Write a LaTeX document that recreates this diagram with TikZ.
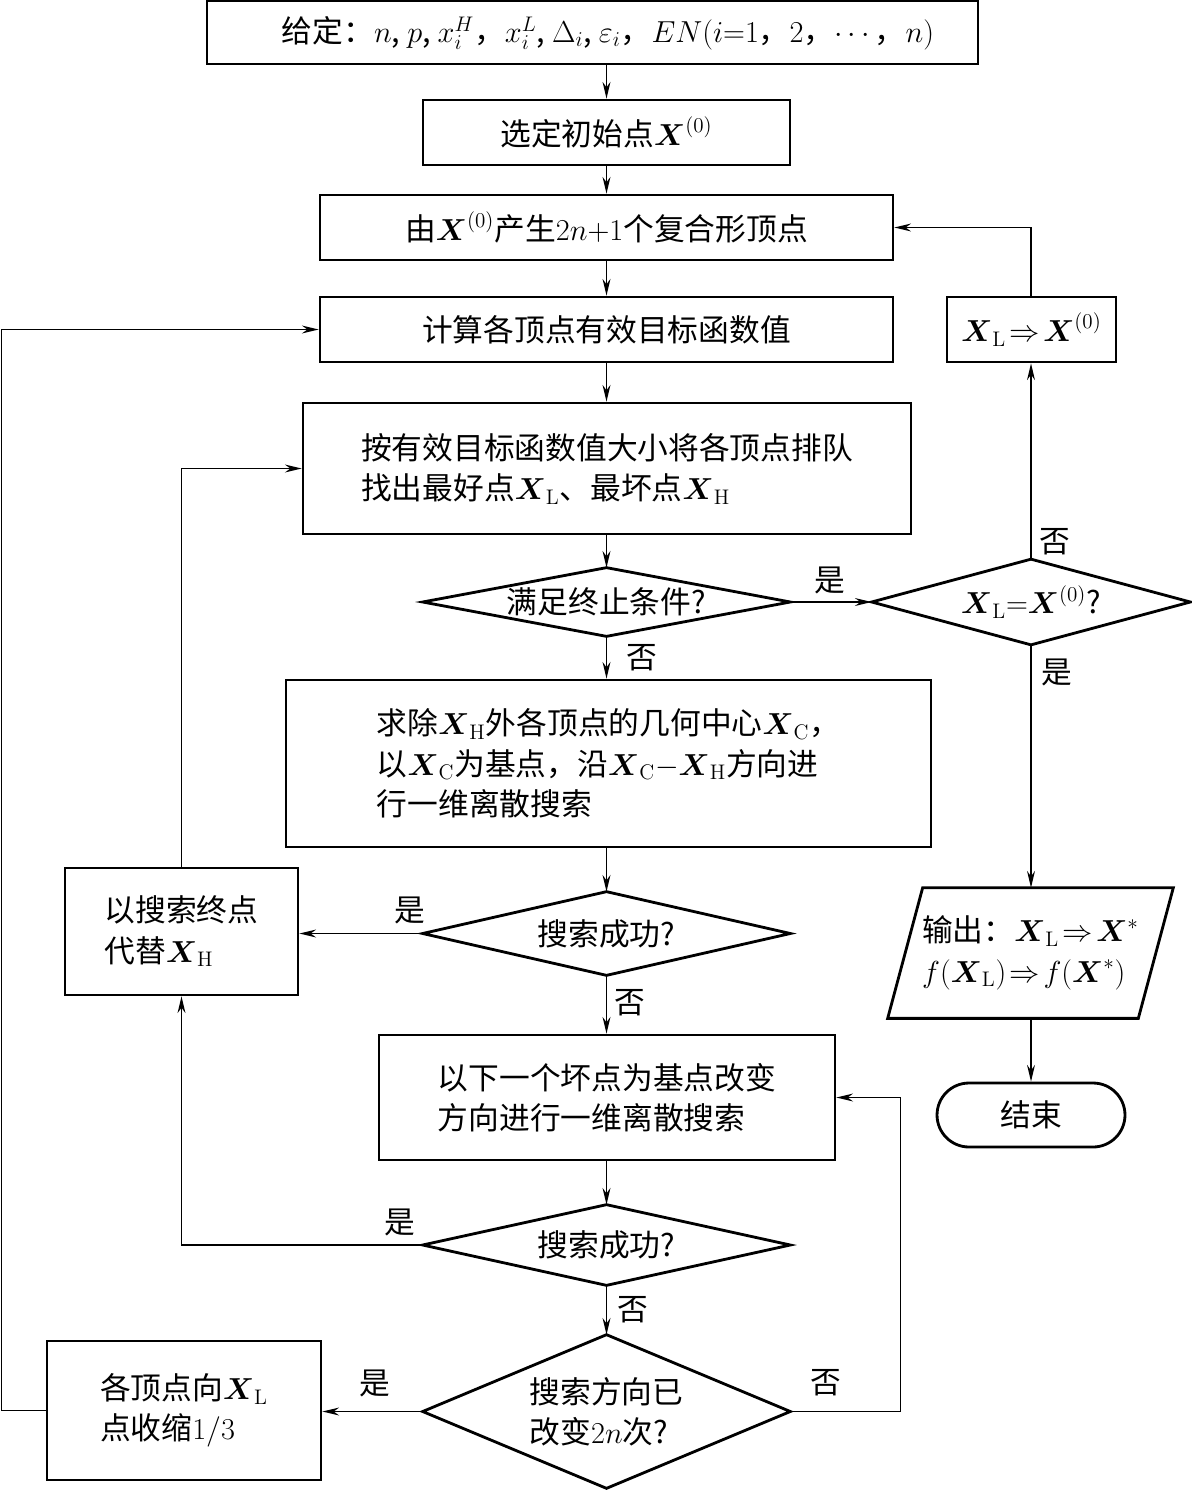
\documentclass[tikz,border=0pt]{standalone}
\usepackage{amsmath}
\usepackage[no-math]{fontspec}
\setmainfont{Noto Sans CJK SC}
\usetikzlibrary{arrows.meta,calc}
\newcommand\fs{\fontsize{17.5pt}{23pt}\selectfont}
\newcommand\XL{\boldsymbol{X}_{\mathrm{L}}}
\newcommand\XH{\boldsymbol{X}_{\mathrm{H}}}
\newcommand\XC{\boldsymbol{X}_{\mathrm{C}}}
\newcommand\Xz{\boldsymbol{X}^{(0)}}
\newcommand\imp{\mathrel{\mkern-3mu\Rightarrow\mkern-3mu}}
\tikzset{
  box/.style={draw, line width=1.6pt, inner sep=0pt, font=\fs, align=center},
  dbox/.style={inner sep=0pt, font=\fs, align=center},
  shapeline/.style={line width=1.6pt, line join=miter},
  conn/.style={line width=0.8pt, -{Stealth[length=9.5pt,width=4.5pt]}},
  lab/.style={font=\fs, inner sep=0pt},
}
\begin{document}
\begin{tikzpicture}[x=0.02cm,y=-0.02cm]
\useasboundingbox (0,0) rectangle (1192,1494);
% boxes
\node[box, minimum width=15.42cm, minimum height=1.26cm] (b1) at (592.5,32.5) {};
\node[lab] (b1t) at (608,33) {给定：$n$, $p$, $x_i^H$，$x_i^L$, $\Delta_i$, $\varepsilon_i$，$EN(i{=}1$，$2$，$\cdots$，$n)$};
\node[box, minimum width=7.34cm, minimum height=1.3cm] (b2) at (606.5,132.5) {选定初始点$\Xz$};
\node[box, minimum width=11.46cm, minimum height=1.3cm] (b3) at (606.5,227.5) {由$\Xz$产生$2n{+}1$个复合形顶点};
\node[box, minimum width=11.46cm, minimum height=1.3cm] (b4) at (606.5,329.5) {计算各顶点有效目标函数值};
\node[box, minimum width=3.38cm, minimum height=1.3cm] (bx) at (1031.5,329.5) {$\XL\imp\Xz$};
\node[box, minimum width=12.16cm, minimum height=2.62cm, align=left] (b5) at (607,468.5) {按有效目标函数值大小将各顶点排队\\找出最好点$\XL$、最坏点$\XH$};
\node[dbox, minimum width=7.34cm, minimum height=1.36cm] (d1) at (606.5,602) {满足终止条件?};
\node[dbox, minimum width=6.36cm, minimum height=1.7cm] (d2) at (1031,602) {$\XL{=}\Xz$?};
\node[box, minimum width=12.9cm, minimum height=3.34cm, align=left] (b6) at (608.5,763.5) {求除$\XH$外各顶点的几何中心$\XC$，\\以$\XC$为基点，沿$\XC{-}\XH$方向进\\行一维离散搜索};
\node[dbox, minimum width=7.34cm, minimum height=1.66cm] (d3) at (606.5,933.5) {搜索成功?};
\node[box, minimum width=4.66cm, minimum height=2.54cm, align=left] (b7) at (181.5,931.5) {以搜索终点\\代替$\XH$};
\node[dbox, minimum width=5.7cm, minimum height=2.6cm, align=left] (out) at (1030.5,953) {输出：$\XL\imp\boldsymbol{X}^{*}$\\$f(\XL)\imp f(\boldsymbol{X}^{*})$};
\node[box, rounded corners=0.64cm, minimum width=3.76cm, minimum height=1.28cm] (end) at (1031,1115) {结束};
\node[box, minimum width=9.12cm, minimum height=2.5cm, align=left] (b8) at (607,1097.5) {以下一个坏点为基点改变\\方向进行一维离散搜索};
\node[dbox, minimum width=7.34cm, minimum height=1.6cm] (d4) at (606.5,1245) {搜索成功?};
\node[dbox, minimum width=7.34cm, minimum height=3.06cm, align=left] (d5) at (606.5,1411.5) {搜索方向已\\改变$2n$次?};
\node[box, minimum width=5.48cm, minimum height=2.78cm, align=left] (b9) at (184,1410.5) {各顶点向$\XL$\\点收缩$1/3$};
% diamonds and parallelogram
\foreach \d in {d1,d2,d3,d4,d5}
  \draw[shapeline] (\d.north) -- (\d.east) -- (\d.south) -- (\d.west) -- cycle;
\draw[shapeline] ($(out.north west)+(35,0)$) -- (out.north east) -- ($(out.south east)+(-35,0)$) -- (out.south west) -- cycle;
% vertical main flow
\draw[conn] (b2.north |- b1.south) -- (b2.north);
\draw[conn] (b2.south) -- (b3.north);
\draw[conn] (b3.south) -- (b4.north);
\draw[conn] (b4.south) -- (b4.south |- b5.north);
\draw[conn] (b4.south |- b5.south) -- (d1.north);
\draw[conn] (d1.south) -- (d1.south |- b6.north);
\draw[conn] (d3.north |- b6.south) -- (d3.north);
\draw[conn] (d3.south) -- (d3.south |- b8.north);
\draw[conn] (d4.north |- b8.south) -- (d4.north);
\draw[conn] (d4.south) -- (d5.north);
% right branch
\draw[conn] (d1.east) -- (d2.west);
\draw[conn] (d2.north) -- (d2.north |- bx.south);
\draw[conn] (d2.north |- bx.north) |- (b3.east);
\draw[conn] (d2.south) -- (d2.south |- out.north);
\draw[conn] (d2.south |- out.south) -- (end.north);
% left branches
\draw[conn] (d3.west) -- (d3.west -| b7.east);
\draw[conn] (b7.north) |- (b5.west);
\draw[conn] (d4.west) -| (b7.south);
\draw[conn] (d5.west) -- (d5.west -| b9.east);
\draw[conn] (d5.east) -- ++(110,0) |- (b8.east);
\draw[conn] (b9.west) -- ++(-44,0) |- (b4.west);
% labels
\node[lab] (l1) at (642,658) {否};
\node[lab] (l2) at (830,580) {是};
\node[lab] (l3) at (1055,542) {否};
\node[lab] (l4) at (1057,672) {是};
\node[lab] (l5) at (410,910) {是};
\node[lab] (l6) at (630,1003) {否};
\node[lab] (l7) at (400,1222) {是};
\node[lab] (l8) at (633,1310) {否};
\node[lab] (l9) at (375,1383) {是};
\node[lab] (l10) at (826,1383) {否};
\end{tikzpicture}
\end{document}
